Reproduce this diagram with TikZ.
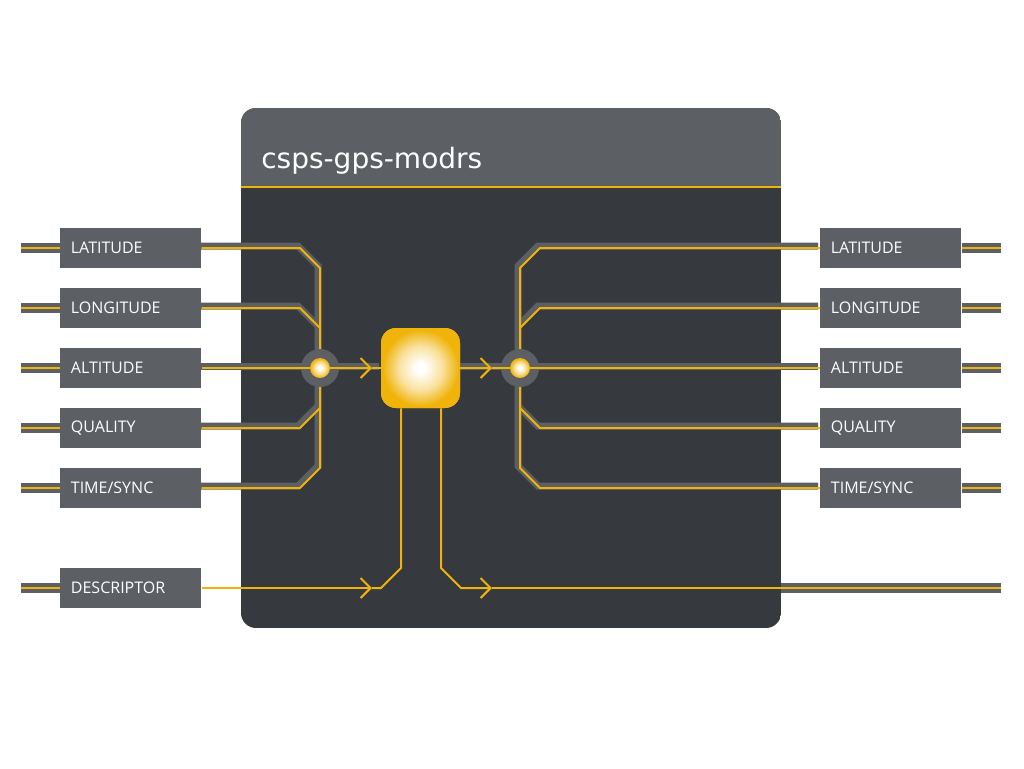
\documentclass[tikz,border=0pt]{standalone}
\usepackage{fontspec}
\setmainfont{Open Sans}
\newfontfamily\titlefont{DejaVu Sans}
\usetikzlibrary{arrows.meta}

\definecolor{wiregold}{HTML}{F0B30A}
\definecolor{slate}{HTML}{5C5F64}
\definecolor{dark}{HTML}{36393D}
\colorlet{goldlt}{wiregold!40!white}
\pgfdeclareradialshading{glow}{\pgfpoint{0bp}{0bp}}{color(0bp)=(white); color(3bp)=(white); color(14bp)=(goldlt); color(24bp)=(wiregold); color(50bp)=(wiregold)}

\begin{document}
\begin{tikzpicture}[x=0.75pt,y=-0.75pt,
		port/.style={fill=slate, text=white, anchor=west, minimum height=30pt, inner xsep=8pt, text width=89.75pt, align=left, font=\fontsize{12}{14}\selectfont},
		wire/.style={draw=wiregold, line width=1.5pt},
		band/.style={draw=slate, line width=5.25pt, transform canvas={shift={(-2,-2)}}},
		stub/.style={draw=wiregold, line width=2pt, preaction={draw=slate, line width=7.5pt}},
		barb/.style={-{Straight Barb[length=7.5pt, width=15pt]}},
		core/.style={shade, shading=glow, minimum width=59.25pt, minimum height=60pt, rounded corners=11.25pt, inner sep=0pt},
		disc/.style={circle, fill=slate, minimum size=28.5pt, inner sep=0pt},
		dot/.style={circle, shade, shading=glow, minimum size=15pt, inner sep=0pt}]
	\useasboundingbox (0,0) rectangle (1024,768);
	
	% module frame
	\begin{scope}
		\clip[rounded corners=11.25pt] (241,108) rectangle (781,628);
		\fill[dark] (241,108) rectangle (781,628);
		\fill[slate] (241,108) rectangle (781,187);
	\end{scope}
	\draw[wiregold, line width=1.5pt] (241,187) -- (781,187);
	\node[anchor=base west, inner sep=0pt, text=white, font=\titlefont\fontsize{21}{25}\selectfont] (title) at (261,168) {csps-gps-modrs};
	
	% ports
	\foreach \n/\t/\y in {lat/LATITUDE/248, lon/LONGITUDE/308, alt/ALTITUDE/368, qua/QUALITY/428, tim/{TIME/SYNC}/488}{
		\node[port] (in-\n) at (60,\y) {\t};
		\node[port] (out-\n) at (820,\y) {\t};
		\coordinate (sin-\n) at (21,\y);
		\coordinate (sout-\n) at (1001,\y);
		\draw[stub] (sin-\n) -- (in-\n.west);
		\draw[stub] (out-\n.east) -- (sout-\n);
	}
	\node[port] (in-des) at (60,588) {DESCRIPTOR};
	\coordinate (sin-des) at (21,588);
	\coordinate (sout-des) at (1001,588);
	\coordinate (edge-des) at (781,588);
	\draw[stub] (sin-des) -- (in-des.west);
	\draw[stub] (edge-des) -- (sout-des);
	
	\node[core] (core) at (420.5,368) {};
	\coordinate (jl) at (320,368);
	\coordinate (jr) at (520,368);
	
	% merge / split wires
	\draw[band] (in-alt.east) -- (core.west);
	\draw[band] (core.east) -- (out-alt.west);
	\foreach \st in {band,wire}{
		\draw[\st] (in-lat.east) -- (300,248) -- (320,268) -- (jl);
		\draw[\st] (in-lon.east) -- (300,308) -- (320,328);
		\draw[\st] (in-qua.east) -- (300,428) -- (320,408);
		\draw[\st] (in-tim.east) -- (300,488) -- (320,468) -- (jl);
		\draw[\st] (jr) -- (520,268) -- (540,248) -- (out-lat.west);
		\draw[\st] (520,328) -- (540,308) -- (out-lon.west);
		\draw[\st] (520,408) -- (540,428) -- (out-qua.west);
		\draw[\st] (jr) -- (520,468) -- (540,488) -- (out-tim.west);
	}
	\node[disc] (dl) at (jl) {};
	\node[disc] (dr) at (jr) {};
	
	\coordinate (a1) at (372,368);
	\coordinate (a2) at (492,368);
	\draw[wire] (in-alt.east) -- (jl);
	\draw[wire, barb] (jl) -- (a1);
	\draw[wire] (a1) -- (core.west);
	\draw[wire, barb] (core.east) -- (a2);
	\draw[wire] (a2) -- (out-alt.west);
	
	% descriptor
	\coordinate (a3) at (372,588);
	\coordinate (a4) at (492,588);
	\coordinate (d1) at (401,568);
	\coordinate (d2) at (441,568);
	\draw[wire, barb] (in-des.east) -- (a3);
	\draw[wire] (a3) -- ++(9,0) -- (d1) -- (d1 |- core.south);
	\draw[wire, barb] (d2 |- core.south) -- (d2) -- (461,588) -- (a4);
	\draw[wire] (a4) -- (edge-des);
	
	\node[dot] (gl) at (jl) {};
	\node[dot] (gr) at (jr) {};
	\node[core] at (core) {};
\end{tikzpicture}
\end{document}
